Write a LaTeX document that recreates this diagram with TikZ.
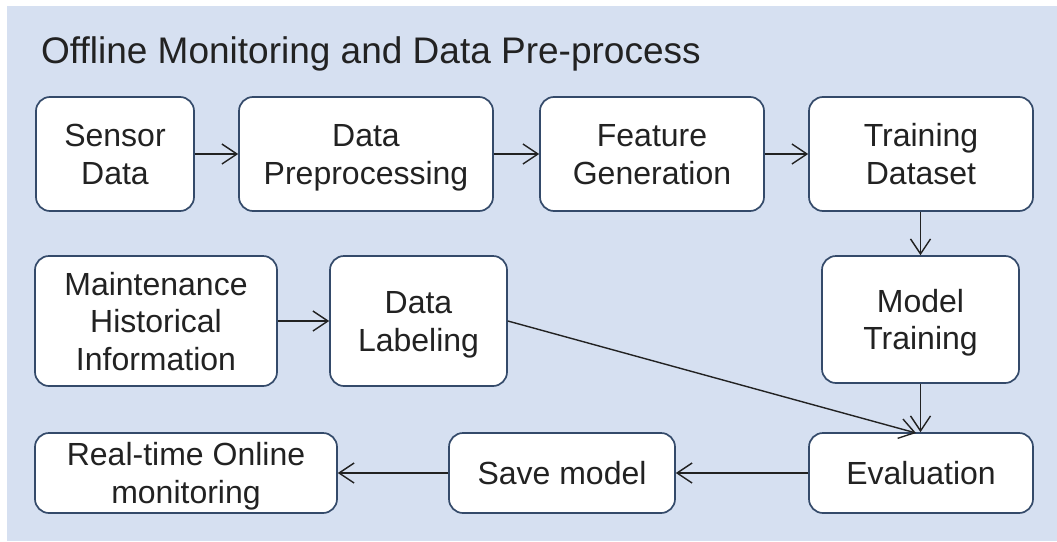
\documentclass[tikz,border=0pt]{standalone}
\usepackage{fontspec}
\setmainfont{Liberation Sans}
\usetikzlibrary{arrows.meta}
\definecolor{panel}{HTML}{D6E0F1}
\definecolor{edge}{HTML}{344A6A}
\definecolor{ink}{HTML}{222222}
% one text line: fixed cap-height strut, descenders smashed, so that
% every box is centred on the cap band of its lines
\newcommand\capline[1]{\rule{0pt}{23pt}\smash{#1}}
\tikzset{
  stage/.style={draw=edge, line width=1.7pt, fill=white, rounded corners=14pt,
    align=center, text=ink, inner sep=0pt,
    font=\fontsize{32}{37.5}\selectfont},
  flow/.style={draw=ink, line width=1.4pt,
    -{Straight Barb[length=15pt,width=20pt,line width=1.4pt]}},
}
\begin{document}
\begin{tikzpicture}[x=1pt,y=-1pt]
\useasboundingbox (0,0) rectangle (1057,541);
\fill[panel] (7,6) rectangle (1057,541);
\node[anchor=base west, text=ink, font=\fontsize{37}{44}\selectfont, inner sep=0pt]
  (title) at (41,63) {Offline Monitoring and Data Pre-process};

\node[stage, minimum width=158pt, minimum height=114pt] (sensor) at (115,154)
  {\capline{Sensor}\\\capline{Data}};
\node[stage, minimum width=254pt, minimum height=114pt] (prep) at (366,154)
  {\capline{Data}\\\capline{Preprocessing}};
\node[stage, minimum width=224pt, minimum height=114pt] (feat) at (652,154)
  {\capline{Feature}\\\capline{Generation}};
\node[stage, minimum width=224pt, minimum height=114pt] (train) at (921,154)
  {\capline{Training}\\\capline{Dataset}};
\node[stage, minimum width=197pt, minimum height=127pt] (model) at (920.5,319.5)
  {\capline{Model}\\\capline{Training}};
\node[stage, minimum width=242pt, minimum height=130pt] (maint) at (156,321)
  {\capline{Maintenance}\\\capline{Historical}\\\capline{Information}};
\node[stage, minimum width=177pt, minimum height=130pt] (label) at (418.5,321)
  {\capline{Data}\\\capline{Labeling}};
\node[stage, minimum width=302pt, minimum height=80pt] (online) at (186,473)
  {\capline{Real-time Online}\\\capline{monitoring}};
\node[stage, minimum width=226pt, minimum height=80pt] (save) at (562,473)
  {\capline{Save model}};
\node[stage, minimum width=224pt, minimum height=80pt] (eval) at (921,473)
  {\capline{Evaluation}};

\coordinate (evaltop) at (916,433);
\draw[flow] (sensor) -- (prep);
\draw[flow] (prep) -- (feat);
\draw[flow] (feat) -- (train);
\draw[flow] (train.south -| model.north) -- (model.north);
\draw[flow] (maint) -- (label);
\draw[flow] (label.east) -- (evaltop);
\draw[flow] (model.south) -- (model.south |- eval.north);
\draw[flow] (eval) -- (save);
\draw[flow] (save) -- (online);
\end{tikzpicture}
\end{document}
